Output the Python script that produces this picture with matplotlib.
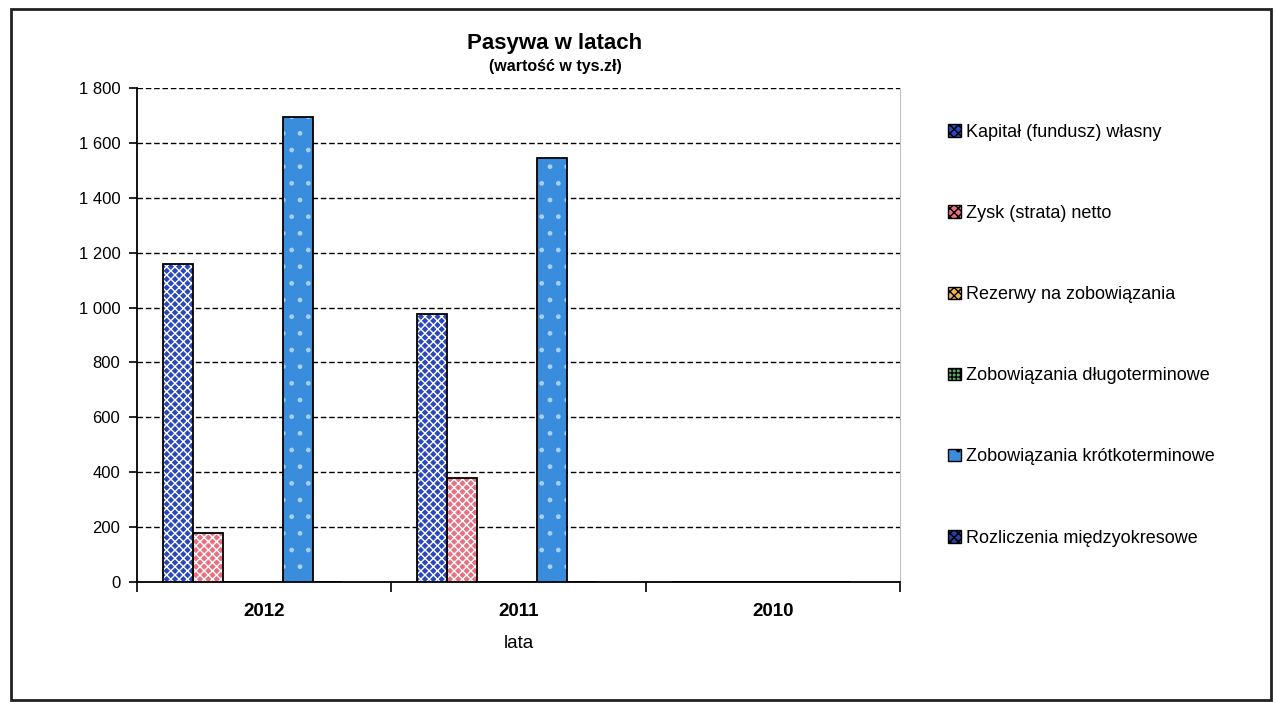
import matplotlib.pyplot as plt
import matplotlib.patches as mpatches
import numpy as np
from matplotlib.ticker import FuncFormatter, FixedLocator

plt.rcParams['font.family'] = ['Liberation Sans', 'DejaVu Sans']
plt.rcParams['hatch.linewidth'] = 1.0

years = ['2012', '2011', '2010']
series = ['Kapitał (fundusz) własny', 'Zysk (strata) netto', 'Rezerwy na zobowiązania',
          'Zobowiązania długoterminowe', 'Zobowiązania krótkoterminowe',
          'Rozliczenia międzyokresowe']
kapital = [1160, 975, 0]
zysk = [180, 380, 0]
rezerwy = [0, 0, 0]
zob_dlugie = [0, 0, 0]
zob_krotkie = [1695, 1545, 0]
rozliczenia = [0, 0, 0]
values = [kapital, zysk, rezerwy, zob_dlugie, zob_krotkie, rozliczenia]

# face colour, hatch, hatch colour for each series
styles = [
    ('#2a48bd', 'xxxx', 'white'),
    ('#e9707f', 'xxxx', 'white'),
    ('#f0b850', 'xxxx', 'white'),
    ('#5fa86c', '++++', 'white'),
    ('#3a8ddc', '.', '#a8d0f4'),
    ('#22409f', 'xxxx', 'white'),
]

fig = plt.figure(figsize=(12.77, 7.02), dpi=100)
ax = fig.add_axes((137/1277, 1 - 582/702, 763/1277, 494/702))

x = np.arange(len(years))
w = 0.1176
for k, (vals, (fc, h, hc)) in enumerate(zip(values, styles)):
    pos = x + (k - 2.5) * w - 0.045
    ax.bar(pos, vals, w, color=fc, hatch=h, edgecolor=hc, linewidth=0, zorder=3)
    ax.bar(pos, vals, w, fill=False, edgecolor='black', linewidth=1.3, zorder=4)

ax.set_xlim(-0.5, 2.5)
ax.set_ylim(0, 1800)
ax.set_yticks(np.arange(0, 1801, 200))
ax.yaxis.set_major_formatter(FuncFormatter(lambda v, p: f'{v:,.0f}'.replace(',', ' ')))
ax.tick_params(axis='y', direction='out', length=6, width=1.2, labelsize=12, pad=6)
ax.yaxis.grid(True, linestyle=(0, (4, 2)), color='black', linewidth=1.0, zorder=1)
ax.set_axisbelow(True)

ax.set_xticks(x)
ax.set_xticklabels(years, fontsize=13.5, fontweight='bold')
ax.tick_params(axis='x', which='major', length=0, pad=15)
ax.xaxis.set_minor_locator(FixedLocator([-0.5, 0.5, 1.5, 2.5]))
ax.tick_params(axis='x', which='minor', direction='out', length=7, width=1.2)
ax.set_xlabel('lata', fontsize=13.5, labelpad=11)

ax.spines['top'].set_visible(False)
ax.spines['right'].set_color('#c0c0c0')
ax.spines['right'].set_linewidth(0.8)
ax.spines['left'].set_linewidth(1.3)
ax.spines['bottom'].set_linewidth(1.3)

fig.text(555/1277, 1 - 43/702, 'Pasywa w latach', ha='center', va='center',
         fontsize=16, fontweight='bold')
fig.text(555/1277, 1 - 67/702, '(wartość w tys.zł)', ha='center', va='center',
         fontsize=11.5, fontweight='bold')

handles = [mpatches.Patch(facecolor=fc, hatch=h, edgecolor='black', linewidth=1)
           for fc, h, hc in styles]
fig.legend(handles, series, loc='upper left', bbox_to_anchor=(939/1277, 1 - 115/702),
           frameon=False, fontsize=13, handlelength=0.7, handleheight=0.7,
           handletextpad=0.3, labelspacing=3.55, borderpad=0)

fig.patches.append(mpatches.Rectangle((11/1277, 1 - 700/702), 1260/1277, 691/702,
                                      transform=fig.transFigure, fill=False,
                                      edgecolor='#222222', linewidth=2))

fig.savefig('out.png', dpi=100)
